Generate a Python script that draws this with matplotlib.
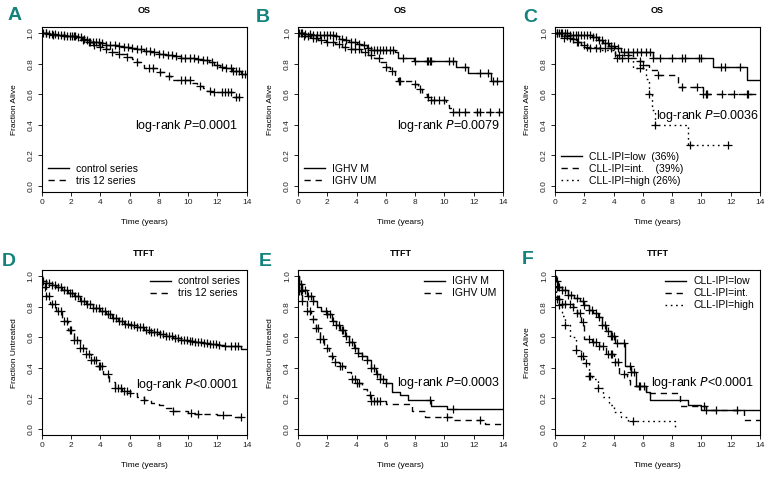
import matplotlib.pyplot as plt
import numpy as np

plt.rcParams['font.family'] = ['Liberation Sans', 'DejaVu Sans']

# ---- A: OS, control vs tris 12
a_ctrl_t = [0, 0.5, 1.0, 1.5, 2.0, 2.4, 2.8, 3.0, 3.3, 3.6, 4.0, 4.4, 4.8, 5.2, 5.6, 6.0, 6.5,
            7.0, 7.5, 8.0, 8.5, 9.0, 9.5, 10.0, 10.5, 11.0, 11.4, 11.8, 12.2, 12.6, 13.0, 13.6, 14.0]
a_ctrl_s = [1.0, 0.995, 0.99, 0.985, 0.98, 0.975, 0.965, 0.955, 0.945, 0.94, 0.935, 0.925, 0.92,
            0.915, 0.91, 0.905, 0.895, 0.885, 0.875, 0.865, 0.86, 0.85, 0.84, 0.835, 0.83, 0.825,
            0.81, 0.795, 0.78, 0.77, 0.755, 0.735, 0.735]
a_ctrl_c = [0.1, 0.3, 0.5, 0.7, 0.9, 1.1, 1.3, 1.5, 1.7, 1.9, 2.1, 2.3, 2.5, 2.7, 2.9, 3.1, 3.3,
            3.5, 3.7, 3.9, 4.1, 4.4, 4.7, 5.0, 5.3, 5.6, 5.9, 6.2, 6.5, 6.8, 7.1, 7.4, 7.7, 8.0,
            8.3, 8.6, 8.9, 9.2, 9.5, 9.8, 10.1, 10.4, 10.7, 11.0, 11.3, 11.6, 12.0, 12.3, 12.6,
            12.9, 13.1, 13.3, 13.5, 13.7, 13.9]
a_tri_t = [0, 0.8, 1.6, 2.3, 2.8, 3.2, 3.6, 4.0, 4.4, 4.8, 5.3, 5.8, 6.2, 6.5, 6.8, 7.0, 7.9,
           8.4, 8.8, 10.3, 10.6, 11.0, 11.3, 11.6, 13.1, 13.8]
a_tri_s = [1.0, 0.99, 0.98, 0.97, 0.955, 0.94, 0.925, 0.91, 0.895, 0.875, 0.865, 0.845, 0.83,
           0.81, 0.79, 0.77, 0.745, 0.72, 0.695, 0.675, 0.655, 0.64, 0.625, 0.615, 0.585, 0.585]
a_tri_c = [0.3, 0.8, 1.5, 2.2, 2.8, 3.2, 3.6, 4.0, 4.4, 4.8, 5.3, 5.8, 6.5, 7.3, 7.6, 8.1, 8.7,
           9.5, 9.8, 10.1, 10.8, 11.5, 11.8, 12.3, 12.5, 12.7, 12.9, 13.3, 13.5]

# ---- B: OS, IGHV
b_m_t = [0, 0.5, 1.0, 2.5, 2.8, 3.1, 3.5, 4.0, 4.3, 4.7, 5.0, 6.6, 6.8, 7.9, 10.8, 11.6, 13.2, 14.0]
b_m_s = [1.0, 0.995, 0.99, 0.98, 0.965, 0.955, 0.94, 0.93, 0.92, 0.905, 0.89, 0.875, 0.84,
         0.82, 0.78, 0.74, 0.69, 0.69]
b_m_c = [0.1, 0.3, 0.5, 0.8, 1.0, 1.3, 1.5, 1.8, 2.0, 2.2, 2.4, 2.6, 3.0, 3.3, 3.6, 3.9, 4.2,
         4.5, 4.8, 5.0, 5.2, 5.4, 5.6, 5.8, 6.0, 6.3, 6.5, 7.2, 8.0, 8.8, 8.9, 9.0, 9.1, 10.3,
         10.6, 11.4, 12.4, 13.0, 13.3, 13.6]
b_um_t = [0, 0.4, 0.9, 1.4, 1.9, 2.5, 3.0, 3.6, 4.3, 4.8, 5.2, 5.6, 6.0, 6.3, 6.6, 6.8, 7.8,
          8.2, 8.5, 8.8, 9.1, 10.1, 10.3, 10.5, 14.0]
b_um_s = [1.0, 0.985, 0.97, 0.955, 0.94, 0.93, 0.91, 0.895, 0.88, 0.86, 0.84, 0.81, 0.78, 0.75,
          0.72, 0.69, 0.665, 0.635, 0.605, 0.58, 0.56, 0.53, 0.51, 0.485, 0.485]
b_um_c = [0.2, 0.4, 0.7, 1.0, 1.2, 1.6, 2.0, 2.4, 2.8, 3.2, 3.6, 3.9, 4.2, 4.6, 5.0, 5.5, 6.0,
          6.4, 6.9, 7.0, 8.0, 8.3, 8.9, 9.1, 9.3, 9.6, 10.0, 10.6, 11.0, 11.4, 12.2, 12.4,
          13.1, 13.7]

# ---- C: OS, CLL-IPI
c_low_t = [0, 1.0, 2.5, 2.9, 3.3, 3.7, 4.1, 4.5, 6.7, 10.8, 13.1, 14.0]
c_low_s = [1.0, 0.99, 0.975, 0.955, 0.935, 0.915, 0.9, 0.88, 0.84, 0.78, 0.695, 0.695]
c_low_c = [0.1, 0.3, 0.5, 0.7, 0.8, 1.0, 1.2, 1.4, 1.6, 1.8, 2.0, 2.2, 2.4, 2.6, 2.8, 3.0, 3.2,
           3.4, 3.6, 3.8, 4.0, 4.3, 4.7, 5.0, 5.3, 5.6, 5.9, 6.2, 6.5, 6.7, 7.2, 8.0, 8.7, 8.9,
           9.8, 10.0, 11.3, 11.6, 12.6]
c_int_t = [0, 0.5, 1.0, 1.4, 1.8, 2.1, 4.1, 5.5, 6.0, 6.4, 7.0, 8.4, 10.1, 13.7]
c_int_s = [1.0, 0.985, 0.96, 0.94, 0.92, 0.9, 0.84, 0.82, 0.79, 0.76, 0.725, 0.65, 0.60, 0.60]
c_int_c = [0.1, 0.4, 0.8, 1.2, 1.6, 2.0, 2.4, 2.8, 3.1, 3.4, 3.8, 4.2, 4.6, 5.0, 5.8, 6.0, 7.0,
           8.7, 9.7, 10.1, 10.3, 10.4, 11.4, 12.2, 13.1, 13.2]
c_high_t = [0, 0.6, 1.2, 2.0, 3.0, 4.1, 5.3, 6.2, 6.4, 6.6, 6.8, 9.1, 11.8]
c_high_s = [1.0, 0.97, 0.94, 0.91, 0.89, 0.855, 0.77, 0.70, 0.60, 0.50, 0.40, 0.27, 0.27]
c_high_c = [0.6, 1.0, 1.5, 2.2, 4.4, 5.0, 5.8, 6.4, 6.8, 9.2, 11.8]

# ---- D: TTFT, control vs tris 12
d_ctrl_t = [0, 0.05, 0.3, 0.7, 1.0, 1.4, 1.8, 2.2, 2.6, 3.0, 3.5, 4.0, 4.4, 4.8, 5.2, 5.6, 6.0,
            6.5, 7.0, 7.5, 8.0, 8.5, 9.0, 9.5, 10.0, 10.5, 11.0, 11.5, 12.0, 12.5, 13.0, 13.6, 14.0]
d_ctrl_s = [1.0, 0.97, 0.955, 0.94, 0.93, 0.91, 0.89, 0.87, 0.84, 0.815, 0.795, 0.775, 0.75,
            0.725, 0.705, 0.69, 0.68, 0.665, 0.65, 0.635, 0.62, 0.61, 0.595, 0.585, 0.575, 0.57,
            0.565, 0.555, 0.55, 0.545, 0.54, 0.525, 0.525]
d_ctrl_c = [0.1, 0.3, 0.5, 0.7, 0.9, 1.1, 1.3, 1.5, 1.7, 1.9, 2.1, 2.3, 2.5, 2.7, 2.9, 3.1, 3.3,
            3.5, 3.7, 3.9, 4.1, 4.3, 4.5, 4.7, 4.9, 5.1, 5.3, 5.5, 5.7, 5.9, 6.1, 6.3, 6.5, 6.7,
            6.9, 7.1, 7.3, 7.5, 7.7, 7.9, 8.1, 8.3, 8.5, 8.7, 8.9, 9.1, 9.3, 9.5, 9.7, 9.9, 10.1,
            10.3, 10.5, 10.7, 10.9, 11.1, 11.3, 11.5, 11.7, 11.9, 12.1, 12.5, 12.9, 13.2, 13.4]
d_tri_t = [0, 0.05, 0.3, 0.6, 1.0, 1.4, 1.8, 2.2, 2.6, 3.0, 3.4, 3.8, 4.2, 4.6, 5.0, 5.5, 6.0,
           6.5, 7.0, 7.5, 8.0, 8.5, 9.0, 10.0, 10.5, 12.0, 13.0, 13.6]
d_tri_s = [1.0, 0.93, 0.87, 0.82, 0.77, 0.71, 0.65, 0.58, 0.53, 0.49, 0.45, 0.41, 0.36, 0.31,
           0.27, 0.25, 0.235, 0.21, 0.19, 0.17, 0.155, 0.135, 0.12, 0.105, 0.095, 0.09, 0.08, 0.08]
d_tri_c = [0.2, 0.3, 0.5, 0.7, 0.9, 1.1, 1.3, 1.5, 1.7, 1.9, 2.0, 2.2, 2.4, 2.6, 2.8, 3.0, 3.2,
           3.4, 3.6, 3.7, 3.9, 4.0, 4.1, 4.5, 5.0, 5.2, 5.4, 5.6, 5.8, 6.0, 7.0, 9.0, 10.2, 10.7,
           12.4, 13.6]

# ---- E: TTFT, IGHV
e_m_t = [0, 0.05, 0.3, 0.6, 1.0, 1.3, 1.6, 2.0, 2.3, 2.6, 2.9, 3.2, 3.5, 3.8, 4.1, 4.4, 4.7,
         5.0, 5.3, 5.6, 6.0, 6.4, 7.0, 7.5, 9.1, 10.2, 14.0]
e_m_s = [1.0, 0.95, 0.91, 0.87, 0.84, 0.80, 0.77, 0.75, 0.71, 0.68, 0.65, 0.61, 0.57, 0.53,
         0.50, 0.48, 0.45, 0.40, 0.36, 0.33, 0.30, 0.24, 0.22, 0.19, 0.15, 0.13, 0.13]
e_m_c = [0.1, 0.2, 0.3, 0.5, 0.7, 0.9, 1.0, 1.9, 2.0, 2.2, 2.4, 2.6, 2.8, 3.0, 3.1, 3.3, 3.5,
         3.7, 3.9, 4.1, 4.4, 4.7, 5.0, 5.2, 5.4, 5.6, 5.8, 6.0, 9.0, 10.6]
e_um_t = [0, 0.05, 0.3, 0.6, 0.9, 1.2, 1.5, 1.8, 2.1, 2.4, 2.8, 3.2, 3.6, 4.0, 4.4, 4.7, 5.0,
          6.0, 7.8, 8.7, 10.5, 12.8, 14.0]
e_um_s = [1.0, 0.90, 0.84, 0.77, 0.72, 0.66, 0.59, 0.53, 0.48, 0.44, 0.41, 0.37, 0.33, 0.30,
          0.26, 0.22, 0.18, 0.165, 0.12, 0.08, 0.06, 0.03, 0.03]
e_um_c = [0.1, 0.2, 0.3, 0.6, 0.8, 1.0, 1.2, 1.4, 1.5, 1.7, 2.0, 2.3, 2.5, 2.9, 3.0, 3.7, 3.9,
          4.0, 4.2, 4.9, 5.0, 5.2, 5.4, 5.6, 10.2, 12.4]

# ---- F: TTFT, CLL-IPI
f_low_t = [0, 0.05, 0.2, 0.5, 0.9, 1.3, 1.7, 2.0, 2.3, 2.6, 2.9, 3.2, 3.5, 3.8, 4.1, 4.8, 5.2,
           5.5, 6.2, 6.5, 9.1, 10.0, 14.0]
f_low_s = [1.0, 0.97, 0.93, 0.91, 0.88, 0.86, 0.84, 0.81, 0.78, 0.76, 0.73, 0.68, 0.64, 0.61,
           0.565, 0.41, 0.37, 0.28, 0.245, 0.19, 0.155, 0.125, 0.125]
f_low_c = [0.1, 0.3, 0.5, 0.7, 0.9, 1.1, 1.5, 1.9, 2.0, 2.3, 2.5, 2.8, 3.0, 3.2, 3.4, 3.6, 3.8,
           3.9, 4.0, 4.2, 4.7, 5.1, 5.2, 5.4, 5.7, 5.8, 6.1, 10.3]
f_int_t = [0, 0.05, 0.2, 0.5, 1.2, 1.5, 1.8, 2.0, 2.5, 3.0, 3.5, 4.0, 4.4, 4.9, 5.1, 6.2, 8.5,
           10.3, 12.9, 14.0]
f_int_s = [1.0, 0.93, 0.85, 0.82, 0.80, 0.76, 0.70, 0.59, 0.57, 0.54, 0.49, 0.44, 0.36, 0.32,
           0.28, 0.235, 0.15, 0.125, 0.06, 0.06]
f_int_c = [0.1, 0.3, 0.5, 0.7, 1.0, 1.2, 1.5, 1.7, 1.9, 2.3, 2.6, 2.8, 3.0, 3.3, 3.6, 3.8, 3.9,
           4.1, 4.3, 4.7, 10.2, 11.0, 12.4]
f_high_t = [0, 0.05, 0.3, 0.5, 0.7, 1.0, 1.4, 1.8, 2.0, 2.3, 2.5, 2.9, 3.3, 3.7, 4.0, 4.5, 5.0, 8.2]
f_high_s = [1.0, 0.85, 0.81, 0.74, 0.68, 0.60, 0.52, 0.48, 0.43, 0.35, 0.33, 0.27, 0.21, 0.16,
            0.11, 0.08, 0.055, 0.0]
f_high_c = [0.1, 0.3, 0.7, 1.4, 1.8, 1.9, 2.1, 2.3, 2.4, 2.9, 5.3]

x_ticks = [0, 2, 4, 6, 8, 10, 12, 14]
y_ticks = [0.0, 0.2, 0.4, 0.6, 0.8, 1.0]

TEAL = '#13827c'
STYLES = {'solid': '-', 'dash': (0, (4.5, 3.5)), 'dot': (0, (1.2, 2.6))}


def surv_at(t, s, x):
    idx = np.searchsorted(t, x, side='right') - 1
    return np.asarray(s)[idx]


def km(ax, t, s, cens, style, label):
    ax.step(t, s, where='post', color='k', ls=STYLES[style], lw=1.0, label=label)
    c = np.asarray(cens)
    ax.plot(c, surv_at(t, s, c), ls='none', marker='+', ms=5.5, mew=0.9, color='k')


def setup(ax, title, ylabel):
    ax.set_xlim(0, 14)
    ax.set_ylim(-0.04, 1.04)
    ax.set_xticks(x_ticks)
    ax.set_yticks(y_ticks)
    ax.set_xticklabels([str(v) for v in x_ticks], fontsize=6)
    ax.set_yticklabels(['%.1f' % v for v in y_ticks], fontsize=6, rotation=90, va='center')
    ax.tick_params(length=3, width=0.7, pad=2, colors='#222222')
    for sp in ax.spines.values():
        sp.set_linewidth(0.8)
    ax.text(0.5, 1.1, title, transform=ax.transAxes, ha='center', va='center',
            fontsize=6.5, fontweight='bold')
    ax.set_xlabel('Time (years)', fontsize=6, labelpad=9)
    ax.set_ylabel(ylabel, fontsize=6, labelpad=7)


fig = plt.figure(figsize=(7.72, 4.84), dpi=100)
lefts = [0.054, 0.386, 0.719]
bottoms = [0.603, 0.101]
W, H = 0.2655, 0.341
axs = [[fig.add_axes([l, b, W, H]) for l in lefts] for b in bottoms]

# panel letters (figure pixel centres)
letters = ['A', 'B', 'C', 'D', 'E', 'F']
letter_xy = [(15, 16), (263, 17), (530, 17), (9, 261), (265, 261), (528, 260)]
for lt, (px, py) in zip(letters, letter_xy):
    fig.text(px / 772, 1 - py / 484, lt, ha='center', va='center', fontsize=14,
             fontweight='bold', color=TEAL)

leg_kw = dict(frameon=False, fontsize=7.5, handlelength=2.0, handletextpad=0.7,
              labelspacing=0.2, borderaxespad=0.2)
p_kw = dict(ha='right', va='center', fontsize=9)

# A
ax = axs[0][0]
km(ax, a_ctrl_t, a_ctrl_s, a_ctrl_c, 'solid', 'control series')
km(ax, a_tri_t, a_tri_s, a_tri_c, 'dash', 'tris 12 series')
setup(ax, 'OS', 'Fraction Alive')
ax.legend(loc='lower left', **leg_kw)
ax.text(13.4, 0.39, 'log-rank $\\it{P}$=0.0001', **p_kw)

# B
ax = axs[0][1]
km(ax, b_m_t, b_m_s, b_m_c, 'solid', 'IGHV M')
km(ax, b_um_t, b_um_s, b_um_c, 'dash', 'IGHV UM')
setup(ax, 'OS', 'Fraction Alive')
ax.legend(loc='lower left', **leg_kw)
ax.text(13.8, 0.39, 'log-rank $\\it{P}$=0.0079', **p_kw)

# C
ax = axs[0][2]
km(ax, c_low_t, c_low_s, c_low_c, 'solid', 'CLL-IPI=low  (36%)')
km(ax, c_int_t, c_int_s, c_int_c, 'dash', 'CLL-IPI=int.    (39%)')
km(ax, c_high_t, c_high_s, c_high_c, 'dot', 'CLL-IPI=high (26%)')
setup(ax, 'OS', 'Fraction Alive')
ax.legend(loc='lower left', **leg_kw)
ax.text(13.95, 0.46, 'log-rank $\\it{P}$=0.0036', **p_kw)

# D
ax = axs[1][0]
km(ax, d_ctrl_t, d_ctrl_s, d_ctrl_c, 'solid', 'control series')
km(ax, d_tri_t, d_tri_s, d_tri_c, 'dash', 'tris 12 series')
setup(ax, 'TTFT', 'Fraction Untreated')
ax.legend(loc='upper right', **leg_kw)
ax.text(13.5, 0.29, 'log-rank $\\it{P}$<0.0001', **p_kw)

# E
ax = axs[1][1]
km(ax, e_m_t, e_m_s, e_m_c, 'solid', 'IGHV M')
km(ax, e_um_t, e_um_s, e_um_c, 'dash', 'IGHV UM')
setup(ax, 'TTFT', 'Fraction Untreated')
ax.legend(loc='upper right', **leg_kw)
ax.text(13.8, 0.30, 'log-rank $\\it{P}$=0.0003', **p_kw)

# F
ax = axs[1][2]
km(ax, f_low_t, f_low_s, f_low_c, 'solid', 'CLL-IPI=low')
km(ax, f_int_t, f_int_s, f_int_c, 'dash', 'CLL-IPI=int.')
km(ax, f_high_t, f_high_s, f_high_c, 'dot', 'CLL-IPI=high')
setup(ax, 'TTFT', 'Fraction Alive')
ax.legend(loc='upper right', **leg_kw)
ax.text(13.6, 0.30, 'log-rank $\\it{P}$<0.0001', **p_kw)

fig.savefig('out.png', dpi=100)
